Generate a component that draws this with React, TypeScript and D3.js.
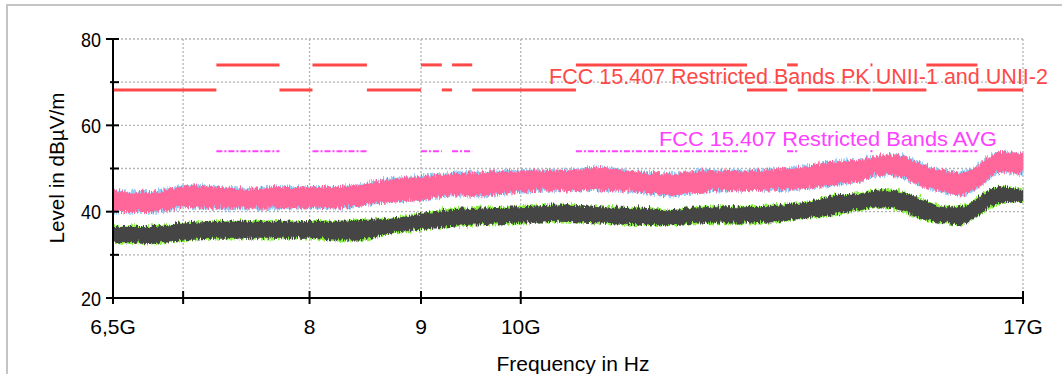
import React from "react";
import * as d3 from "d3";

// ---- data ----
const freqGHz = [6.5, 6.76, 6.9, 7.01, 7.28, 7.51, 7.75, 8.0, 8.22, 8.44, 8.71, 8.99, 9.28, 9.58, 9.99, 10.42, 10.87, 11.34, 11.71, 12.08, 12.61, 13.15, 13.43, 13.86, 14.31, 14.62, 14.93, 15.25, 15.66, 15.91, 16.25, 16.6, 17.0];
const pkUpper = [45.4, 45.0, 45.8, 46.6, 46.2, 45.8, 46.2, 46.2, 46.2, 46.9, 48.1, 48.5, 49.3, 49.6, 50.0, 50.0, 50.8, 49.6, 49.3, 50.0, 50.0, 50.4, 50.8, 52.0, 52.4, 53.5, 53.5, 51.6, 50.0, 49.6, 51.6, 54.3, 53.9];
const pkLower = [40.4, 40.4, 40.8, 41.5, 41.2, 41.2, 41.2, 41.5, 41.2, 41.9, 42.7, 43.2, 44.2, 44.2, 45.0, 45.4, 45.4, 45.0, 44.2, 45.0, 45.4, 45.4, 45.8, 46.6, 47.7, 48.9, 48.5, 46.6, 45.0, 44.2, 46.6, 49.6, 49.3];
const avUpper = [36.9, 36.9, 37.3, 37.7, 38.1, 38.1, 38.1, 38.1, 38.1, 38.5, 38.8, 39.9, 40.8, 41.2, 41.5, 41.9, 41.5, 41.2, 40.8, 41.5, 41.5, 41.9, 42.3, 43.9, 44.6, 45.4, 45.0, 43.5, 41.5, 41.5, 43.9, 46.2, 45.4];
const avLower = [33.4, 33.0, 33.4, 33.8, 34.2, 34.2, 34.2, 34.2, 33.8, 33.8, 35.4, 36.2, 36.9, 37.3, 37.7, 38.1, 37.7, 37.3, 37.3, 37.7, 37.7, 38.1, 38.8, 39.6, 40.8, 41.5, 40.8, 38.8, 37.7, 37.3, 40.0, 42.3, 42.7];

const restrictedBands: [number, number][] = [[7.25, 7.75], [8.025, 8.5], [9.0, 9.2], [9.3, 9.5], [10.6, 12.7], [13.25, 13.4], [14.47, 14.5], [15.35, 16.2]];
const uniiBands: [number, number][] = [[6.5, 7.25], [7.75, 8.025], [8.5, 9.0], [9.2, 9.3], [9.5, 10.6], [12.7, 13.25], [13.4, 14.47], [14.5, 15.35], [16.2, 17.0]];
const pkRestrictedLimit = 74;
const uniiLimit = 68.2;
const avgRestrictedLimit = 54;

const xTicks = [6.5, 7, 8, 9, 10, 17];
const xTickLabels = ["6,5G", "", "8", "9", "10G", "17G"];
const xGrid = [7, 8, 9, 10, 17];
const yTicks = [20, 30, 40, 50, 60, 70, 80];
const yLabelTicks = [20, 40, 60, 80];
const yGrid = [30, 40, 50, 60, 70, 80];

const pkLabel = "FCC 15.407 Restricted Bands PK UNII-1 and UNII-2";
const avgLabel = "FCC 15.407 Restricted Bands AVG";

const W = 1062, H = 374;
const FONT = "'Liberation Sans', Arial, sans-serif";

function NoiseFilter({ id, seed, scale }: { id: string; seed: number; scale: number }) {
  return (
    <filter id={id} x="-2%" y="-40%" width="104%" height="180%" filterUnits="objectBoundingBox">
      <feTurbulence type="turbulence" baseFrequency="0.45 0.06" numOctaves={2} seed={seed} result="t" />
      <feColorMatrix in="t" type="matrix" values="0 0 0 0 0.5  1 0 0 0 0  0 0 0 0 0  0 0 0 0 1" result="m" />
      <feDisplacementMap in="SourceGraphic" in2="m" scale={scale} xChannelSelector="R" yChannelSelector="G" />
    </filter>
  );
}

export default function App() {
  const x = d3.scaleLog().domain([6.5, 17]).range([113, 1023]);
  const y = d3.scaleLinear().domain([20, 80]).range([298, 39]);

  const pkArea = d3.area<number>()
    .x((_, i) => x(freqGHz[i]))
    .y0((_, i) => y(pkLower[i]))
    .y1((_, i) => y(pkUpper[i]))
    .curve(d3.curveMonotoneX);
  const avArea = d3.area<number>()
    .x((_, i) => x(freqGHz[i]))
    .y0((_, i) => y(avLower[i]))
    .y1((_, i) => y(avUpper[i]))
    .curve(d3.curveMonotoneX);
  const idx = freqGHz.map((_, i) => i);

  const red = "#ff4848";
  const mag = "#ff40ff";

  return (
    <svg width={W} height={H} style={{ position: "absolute", left: 0, top: 0, background: "#fff" }} fontFamily={FONT}>
      <defs>
        <NoiseFilter id="n1" seed={3} scale={9} />
        <NoiseFilter id="n2" seed={11} scale={9} />
        <NoiseFilter id="n3" seed={5} scale={7} />
        <NoiseFilter id="n4" seed={17} scale={7} />
        <clipPath id="plot"><rect x={113} y={39} width={911} height={259} /></clipPath>
      </defs>
      <rect x={7} y={5} width={1060} height={380} fill="#fff" stroke="#c4c4c4" strokeWidth={2} />
      {/* grid */}
      {yGrid.map((v) => (
        <line key={"gy" + v} x1={113} x2={1025} y1={y(v)} y2={y(v)} stroke="#b4b4b4" strokeWidth={1.3} strokeDasharray="2,2" />
      ))}
      {xGrid.map((v) => (
        <line key={"gx" + v} x1={x(v)} x2={x(v)} y1={39} y2={298} stroke="#b4b4b4" strokeWidth={1.3} strokeDasharray="2,2" />
      ))}
      {/* limit lines */}
      {uniiBands.map(([a, b], i) => (
        <line key={"u" + i} x1={x(a)} x2={x(b)} y1={y(uniiLimit)} y2={y(uniiLimit)} stroke={red} strokeWidth={3} />
      ))}
      {restrictedBands.map(([a, b], i) => (
        <line key={"r" + i} x1={x(a)} x2={Math.max(x(b), x(a) + 1)} y1={y(pkRestrictedLimit)} y2={y(pkRestrictedLimit)} stroke={red} strokeWidth={3} />
      ))}
      {restrictedBands.map(([a, b], i) => (
        <line key={"a" + i} x1={x(a)} x2={Math.max(x(b), x(a) + 1)} y1={y(avgRestrictedLimit)} y2={y(avgRestrictedLimit)} stroke={mag} strokeWidth={2} strokeDasharray="6,2,2,2" />
      ))}
      {/* traces */}
      <g clipPath="url(#plot)">
        <path d={pkArea(idx) || ""} fill="#9ccbf5" stroke="#9ccbf5" strokeWidth={1.5} filter="url(#n2)" />
        <path d={pkArea(idx) || ""} fill="#ff6699" filter="url(#n1)" />
        <path d={avArea(idx) || ""} fill="#88f040" stroke="#88f040" strokeWidth={1.5} filter="url(#n4)" />
        <path d={avArea(idx) || ""} fill="#454545" filter="url(#n3)" />
      </g>
      {/* labels */}
      <text x={549} y={84} fontSize={22} fill={red} textLength={499} lengthAdjust="spacingAndGlyphs">{pkLabel}</text>
      <text x={659} y={146} fontSize={21} fill={mag} textLength={338} lengthAdjust="spacingAndGlyphs">{avgLabel}</text>
      {/* axes */}
      <line x1={113} x2={113} y1={38} y2={299} stroke="#000" strokeWidth={2} />
      <line x1={112} x2={1024} y1={298} y2={298} stroke="#000" strokeWidth={2} />
      {yTicks.map((v) => {
        const major = yLabelTicks.includes(v);
        return <line key={"yt" + v} x1={major ? 106 : 110} x2={119} y1={y(v)} y2={y(v)} stroke="#000" strokeWidth={2} />;
      })}
      {yLabelTicks.map((v) => (
        <text key={"yl" + v} x={101} y={y(v) + 7.5} fontSize={21} textAnchor="end" fill="#000" textLength={20} lengthAdjust="spacingAndGlyphs">{v}</text>
      ))}
      {xTicks.map((v, i) => (
        <g key={"xt" + v}>
          <line x1={x(v)} x2={x(v)} y1={291} y2={304} stroke="#000" strokeWidth={2} />
          {xTickLabels[i] && (
            <text x={x(v)} y={334} fontSize={21} textAnchor="middle" fill="#000">{xTickLabels[i]}</text>
          )}
        </g>
      ))}
      <text transform="translate(64,168) rotate(-90)" fontSize={21} textAnchor="middle" fill="#000" textLength={151} lengthAdjust="spacingAndGlyphs">Level in dBµV/m</text>
      <text x={573} y={371} fontSize={21} textAnchor="middle" fill="#000" textLength={153} lengthAdjust="spacingAndGlyphs">Frequency in Hz</text>
    </svg>
  );
}
